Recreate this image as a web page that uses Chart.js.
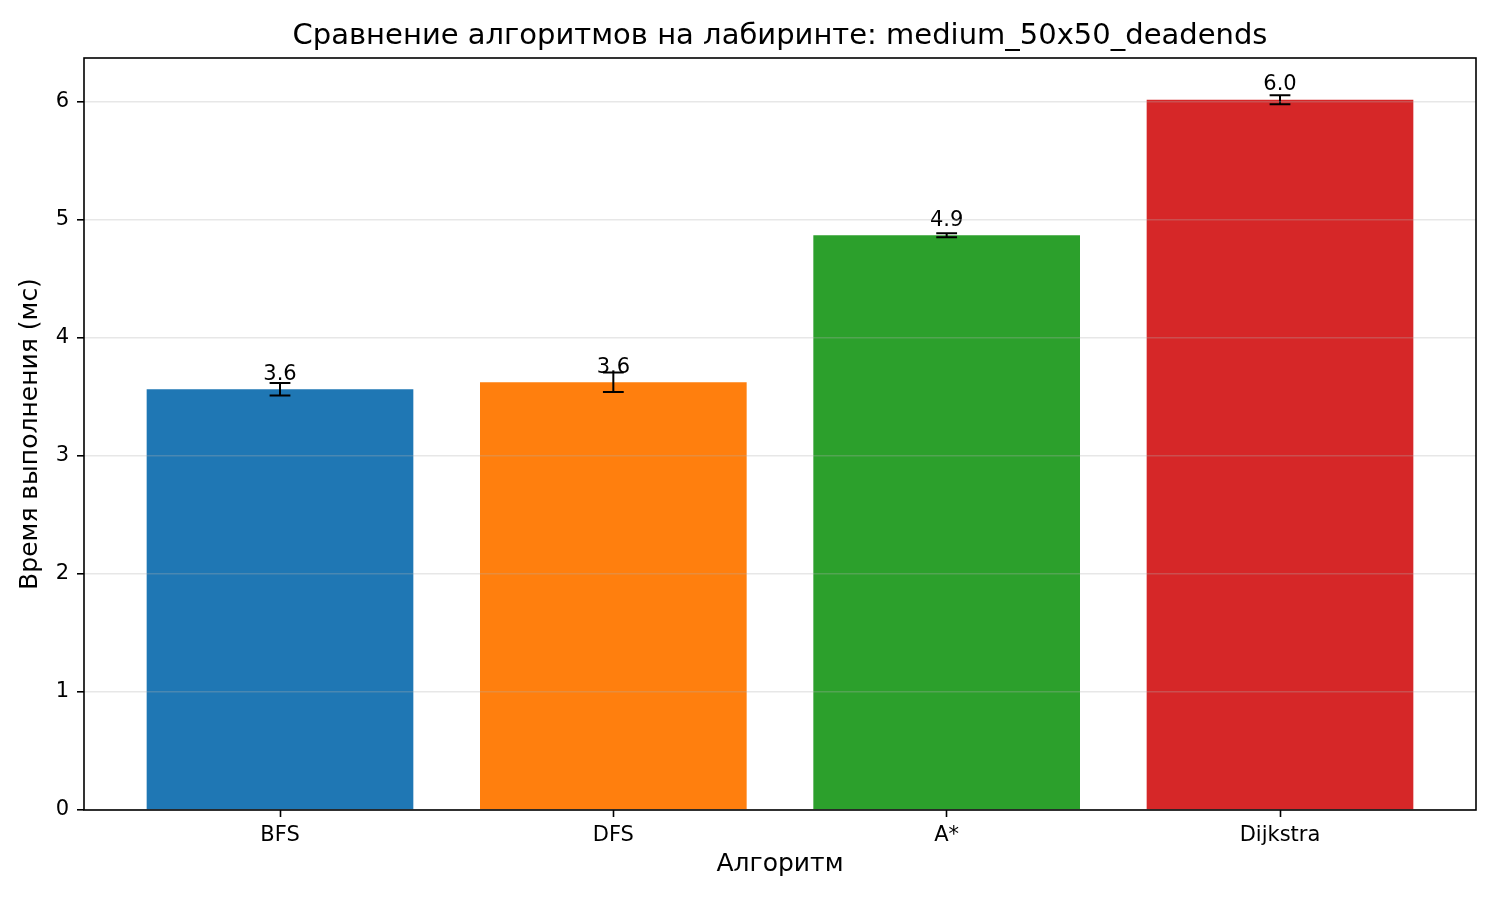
<!DOCTYPE html>
<html>
<head>
<meta charset="utf-8">
<title>Сравнение алгоритмов</title>
<script src="https://cdn.jsdelivr.net/npm/chart.js@4.4.1/dist/chart.umd.min.js"></script>
<style>
  html, body { margin: 0; padding: 0; background: #fff; }
  #wrap { width: 1500px; height: 900px; }
</style>
</head>
<body>
<div id="wrap"><canvas id="chart" width="1500" height="900"></canvas></div>
<script>
// values
var algorithms = ['BFS', 'DFS', 'A*', 'Dijkstra'];
var timesMs = [3.563, 3.622, 4.866, 6.014];
var stdMs = [0.053, 0.082, 0.017, 0.038];
var barColors = ['#1f77b4', '#ff7f0e', '#2ca02c', '#d62728'];
var yTicks = [0, 1, 2, 3, 4, 5, 6];

var FONT = "'DejaVu Sans', sans-serif";

// error bars + value labels, drawn through the chart scales
var errorBars = {
  id: 'errorBars',
  afterDatasetsDraw: function(chart) {
    var ctx = chart.ctx, xs = chart.scales.x, ys = chart.scales.y;
    ctx.save();
    ctx.strokeStyle = '#000';
    ctx.lineWidth = 2;
    timesMs.forEach(function(v, i) {
      var x = xs.getPixelForValue(i);
      var yTop = ys.getPixelForValue(v + stdMs[i]);
      var yBot = ys.getPixelForValue(v - stdMs[i]);
      ctx.beginPath();
      ctx.moveTo(x, yTop); ctx.lineTo(x, yBot);
      ctx.moveTo(x - 10.4, yTop); ctx.lineTo(x + 10.4, yTop);
      ctx.moveTo(x - 10.4, yBot); ctx.lineTo(x + 10.4, yBot);
      ctx.stroke();
    });
    ctx.fillStyle = '#000';
    ctx.font = '21px ' + FONT;
    ctx.textAlign = 'center';
    ctx.textBaseline = 'alphabetic';
    timesMs.forEach(function(v, i) {
      var x = xs.getPixelForValue(i);
      var y = ys.getPixelForValue(v) - 9.5;
      ctx.fillText(v.toFixed(1), x, y);
    });
    ctx.restore();
  },
  afterDraw: function(chart) {
    var a = chart.chartArea, ctx = chart.ctx;
    ctx.save();
    ctx.strokeStyle = '#000';
    ctx.lineWidth = 1.6;
    ctx.strokeRect(a.left, a.top, a.right - a.left, a.bottom - a.top);
    ctx.restore();
  }
};

new Chart(document.getElementById('chart'), {
  type: 'bar',
  data: {
    datasets: [{
      data: timesMs.map(function(v, i) { return { x: i, y: v }; }),
      backgroundColor: barColors,
      borderWidth: 0,
      barPercentage: 0.8,
      categoryPercentage: 1.0
    }]
  },
  options: {
    responsive: false,
    animation: false,
    devicePixelRatio: 1,
    layout: { padding: { left: 0, right: 24, top: 0, bottom: 0 } },
    plugins: {
      legend: { display: false },
      tooltip: { enabled: false },
      title: {
        display: true,
        text: 'Сравнение алгоритмов на лабиринте: medium_50x50_deadends',
        color: '#000',
        fullSize: false,
        font: { family: FONT, size: 29, weight: 'normal', lineHeight: 1.2 },
        padding: { top: 18.6, bottom: 4.6 }
      }
    },
    scales: {
      x: {
        type: 'linear',
        offset: false,
        min: -0.588,
        max: 3.588,
        afterFit: function(s) { s.height = 90; },
        afterBuildTicks: function(s) {
          s.ticks = algorithms.map(function(_, i) { return { value: i }; });
        },
        ticks: {
          autoSkip: false,
          maxRotation: 0,
          color: '#000',
          padding: 6,
          font: { family: FONT, size: 21 },
          callback: function(v) { return algorithms[v]; }
        },
        grid: {
          display: true,
          offset: false,
          drawOnChartArea: false,
          tickLength: 7,
          tickColor: '#000',
          tickWidth: 1.6
        },
        border: { display: false },
        title: {
          display: true,
          text: 'Алгоритм',
          color: '#000',
          font: { family: FONT, size: 25 },
          padding: { top: 0, bottom: 21 }
        }
      },
      y: {
        min: 0,
        max: 6.367,
        afterFit: function(s) { s.width = 84; },
        afterBuildTicks: function(s) {
          s.ticks = yTicks.map(function(v) { return { value: v }; });
        },
        ticks: {
          color: '#000',
          padding: 8,
          font: { family: FONT, size: 21 }
        },
        grid: {
          color: 'rgba(176,176,176,0.3)',
          lineWidth: 1.6,
          tickLength: 7,
          tickColor: '#000',
          tickWidth: 1.6,
          z: 1
        },
        border: { display: false },
        title: {
          display: true,
          text: 'Время выполнения (мс)',
          color: '#000',
          font: { family: FONT, size: 25 },
          padding: { top: 15, bottom: 0 }
        }
      }
    }
  },
  plugins: [errorBars]
});
</script>
</body>
</html>
